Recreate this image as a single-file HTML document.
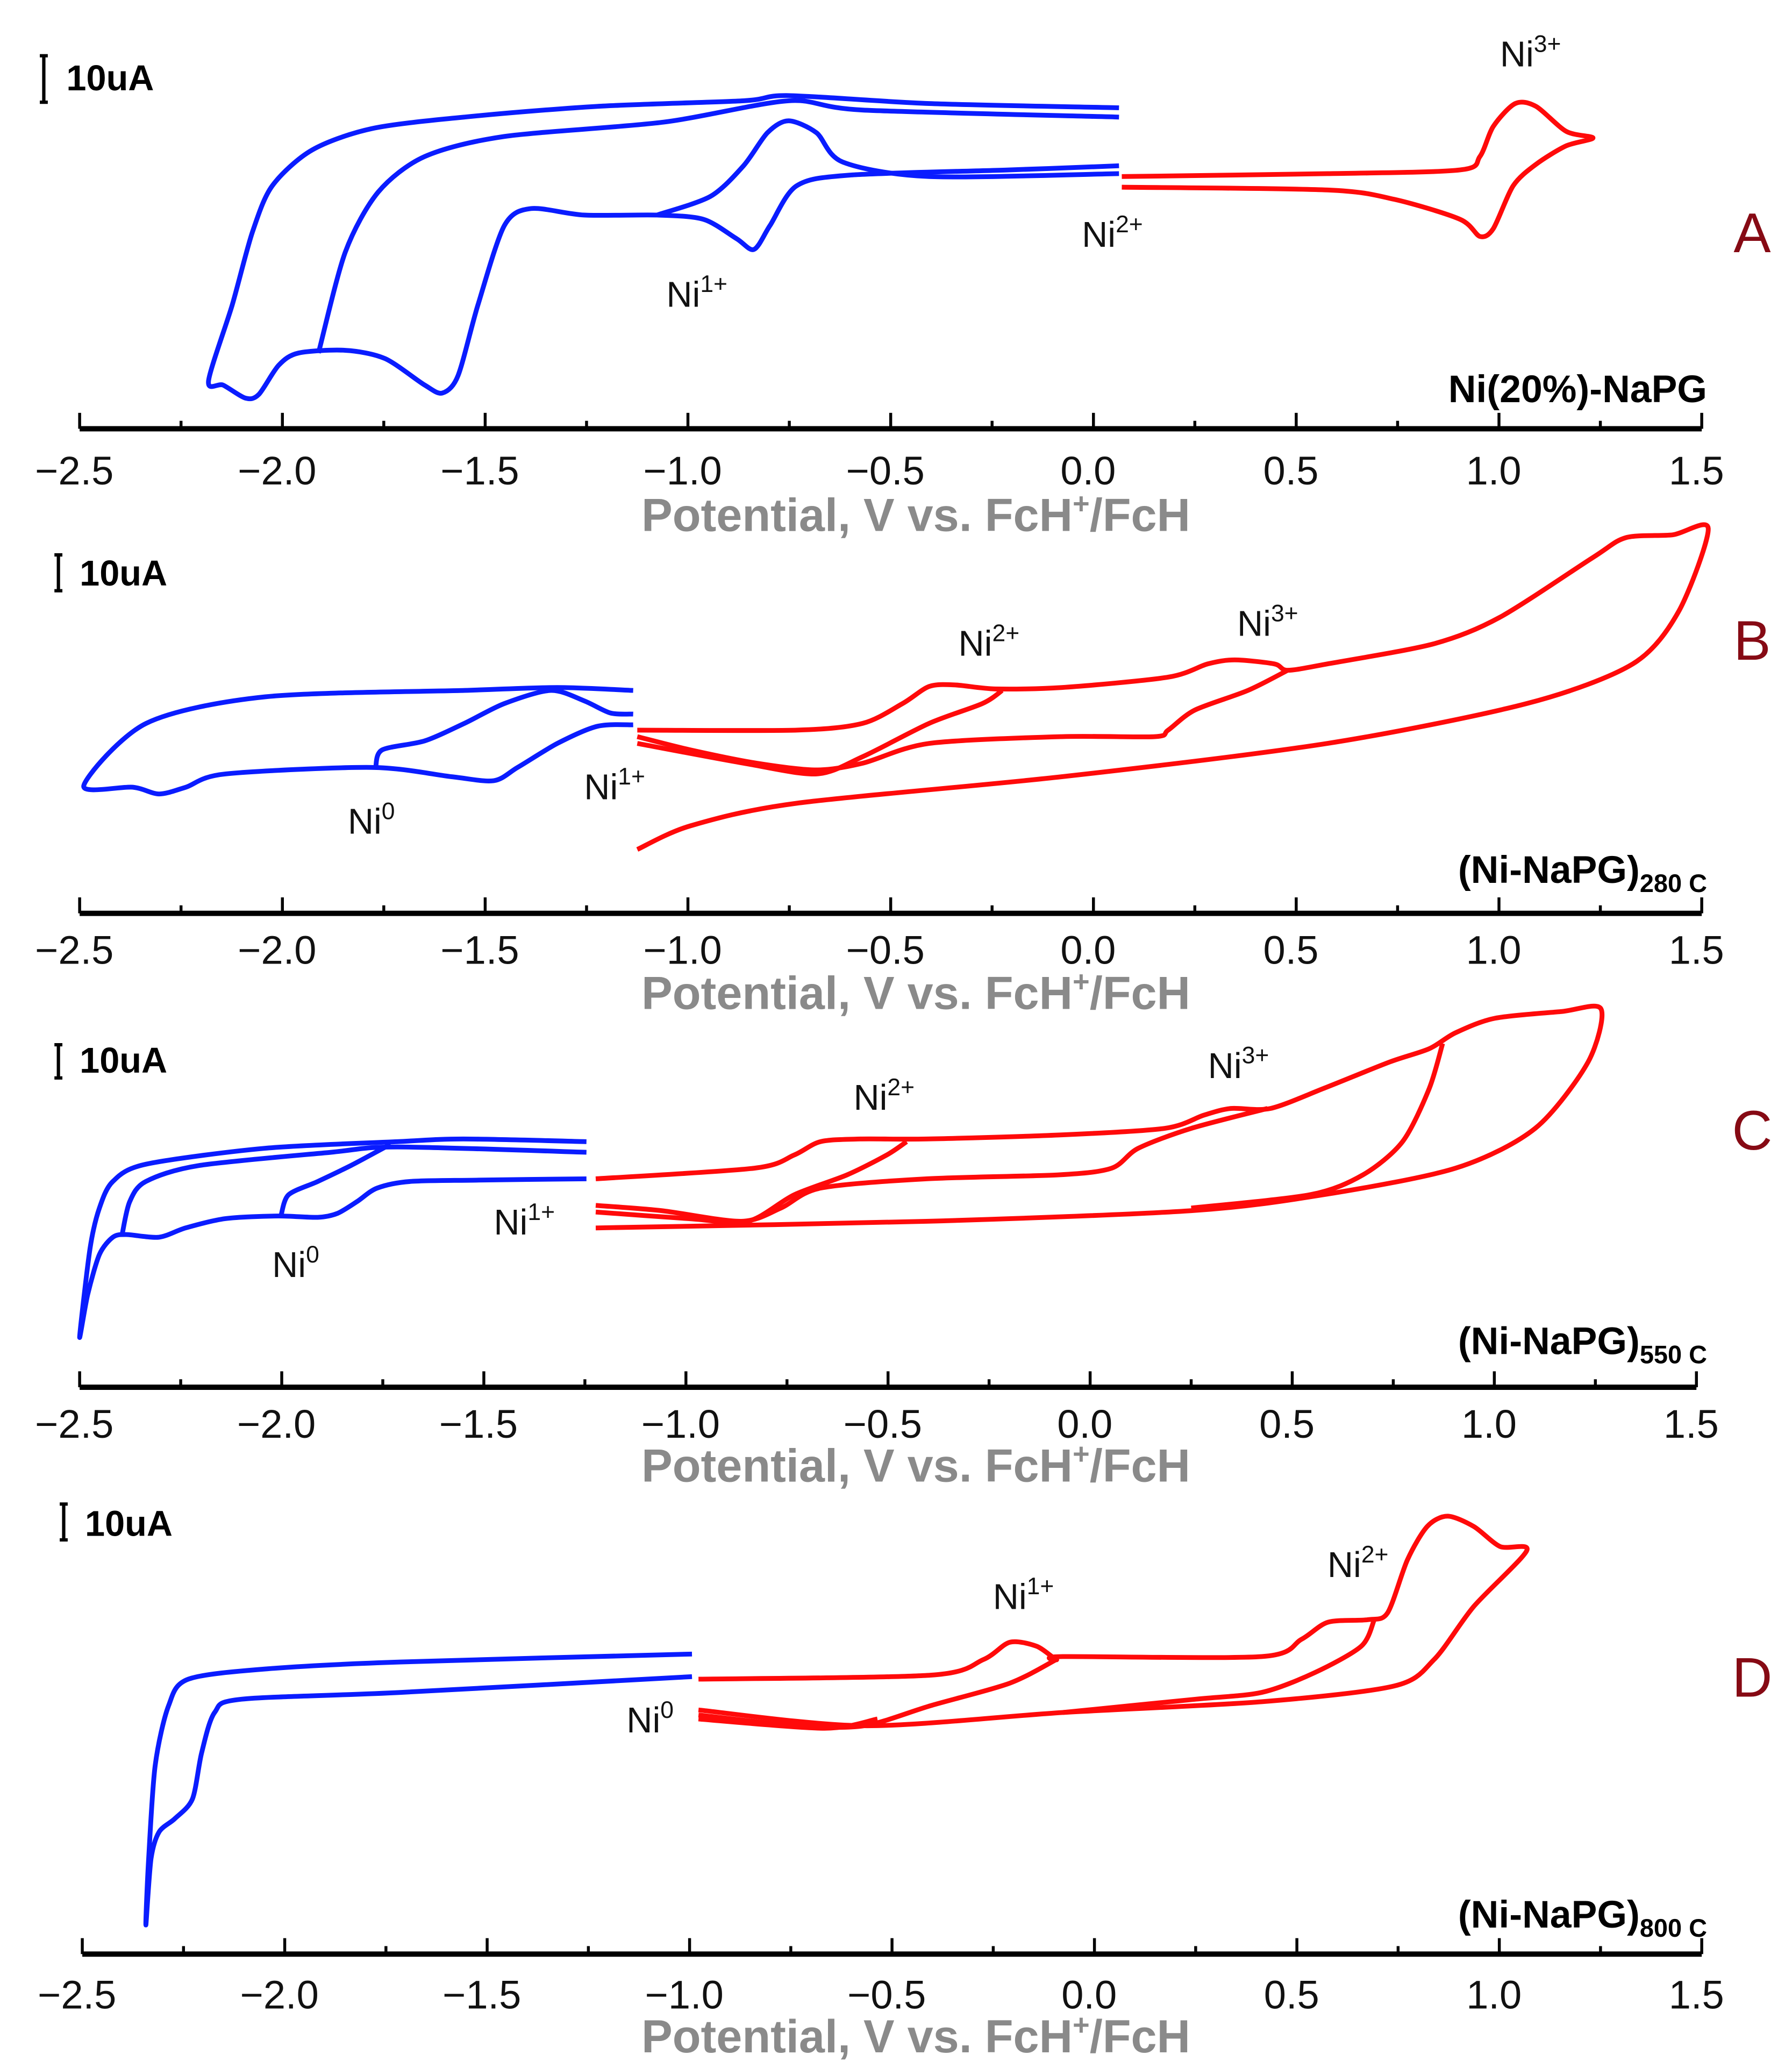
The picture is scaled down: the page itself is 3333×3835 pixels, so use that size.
<!DOCTYPE html>
<html><head><meta charset="utf-8"><style>
html,body{margin:0;padding:0;background:#fff}
svg{display:block}
text{font-family:"Liberation Sans",sans-serif}
</style></head><body>
<svg id="chart" width="3333" height="3835" viewBox="0 0 1350 1553.3" preserveAspectRatio="none" xmlns="http://www.w3.org/2000/svg"></svg>
<script>
// ---- data: [potential V, current uA] ----
const aBlue1=[[0.063,69.1],[-0.405,70],[-0.752,71.7],[-0.863,70.6],[-1.223,69.4],[-1.551,67.1],[-1.78,64.6],[-1.927,60],[-2.025,52.3],[-2.074,42.3],[-2.124,26.6],[-2.182,10.3],[-2.146,9.4],[-2.091,6.6],[-2.058,7.4],[-2.009,13.7],[-1.96,16.3],[-1.845,16.9],[-1.747,15.1],[-1.649,9.4],[-1.606,7.7],[-1.567,11.4],[-1.518,26.6],[-1.453,43.7],[-1.387,47.4],[-1.256,46],[-1.076,46],[-0.962,45.1],[-0.88,40.9],[-0.837,38.6],[-0.798,43.7],[-0.732,52.3],[-0.601,54.6],[-0.209,55.7],[0.063,56.6]];
const aBlue2=[[0.063,54.9],[-0.405,54.3],[-0.618,57.4],[-0.683,63.7],[-0.752,66.3],[-0.804,63.7],[-0.863,56.6],[-0.945,50],[-1.076,46]];
const aBlue3=[[-1.911,16.3],[-1.845,38],[-1.764,50.9],[-1.649,58.6],[-1.453,62.9],[-1.06,66],[-0.752,70.6],[-0.569,68.6],[0.063,67.1]];
const aRed1=[[0.07,54.3],[0.577,54.9],[0.904,55.7],[0.953,58.6],[0.986,65.1],[1.04,70],[1.091,69.4],[1.166,64],[1.232,62.6],[1.166,60.9],[1.091,56.9],[1.035,52.3],[0.986,43.1],[0.953,41.4],[0.904,45.1],[0.741,49.4],[0.577,51.4],[0.07,52]];

const bBlue1=[[-1.135,62.2],[-1.322,63],[-1.551,62.2],[-2.042,60.4],[-2.336,53],[-2.49,35.6],[-2.369,35.2],[-2.304,33.3],[-2.238,35.2],[-2.14,38.9],[-1.78,40.7],[-1.583,38.1],[-1.479,37],[-1.42,40.7],[-1.322,47.4],[-1.223,52.2],[-1.135,52.6]];
const bBlue2=[[-1.77,40.7],[-1.754,45.6],[-1.649,48.1],[-1.551,53],[-1.453,58.5],[-1.338,62.2],[-1.256,59.3],[-1.191,55.9],[-1.135,55.6]];
const bRed1=[[-1.125,17.8],[-0.994,24.4],[-0.732,30.7],[-0.078,38.1],[0.577,47.4],[1.068,58.5],[1.33,69.6],[1.444,84.4],[1.516,107.4],[1.428,105.6],[1.313,104.8],[1.232,99.3],[1.002,82.6],[0.839,75.2],[0.577,69.6],[0.479,67.8],[0.446,69.6],[0.348,70.7],[0.282,69.6],[0.184,65.9],[-0.078,63],[-0.241,62.6],[-0.34,63.7],[-0.405,63.3],[-0.471,58.5],[-0.569,53],[-0.732,51.1],[-1.125,51.1]];
const bRed2=[[-1.125,49.3],[-0.994,45.6],[-0.831,41.9],[-0.683,40],[-0.569,41.9],[-0.405,47.4],[-0.078,49.3],[0.151,49.3],[0.184,51.1],[0.25,56.7],[0.381,62.2],[0.479,67.8]];
const bRed3=[[-1.125,47.4],[-0.863,41.9],[-0.683,38.9],[-0.569,43.7],[-0.405,53],[-0.274,58.5],[-0.225,62.2]];

const cBlue1=[[-1.246,74],[-1.551,74.8],[-1.714,74],[-2.042,72],[-2.336,67.2],[-2.418,62],[-2.451,54],[-2.474,42],[-2.5,15.2],[-2.48,28],[-2.451,40],[-2.418,45.2],[-2.385,46],[-2.304,45.2],[-2.238,48],[-2.14,50.8],[-2.009,51.6],[-1.911,51.2],[-1.862,52.4],[-1.813,56],[-1.764,60],[-1.682,62],[-1.518,62.4],[-1.246,62.8]];
const cBlue2=[[-2.395,46],[-2.376,56],[-2.336,62],[-2.205,66.8],[-1.878,70.8],[-1.714,72.4],[-1.246,70.8]];
const cBlue3=[[-2.002,51.6],[-1.983,58],[-1.911,62],[-1.829,66.8],[-1.731,73.2]];
const cRed1=[[-1.223,48],[-0.405,50],[0.25,53.2],[0.577,58],[0.904,66],[1.101,78],[1.232,98],[1.264,114],[1.166,113.2],[1.002,111.2],[0.904,106.8],[0.839,102],[0.741,98],[0.577,90],[0.446,84],[0.348,84],[0.282,82],[0.184,78],[-0.078,76],[-0.405,74.8],[-0.569,74.8],[-0.667,74],[-0.732,70],[-0.831,66],[-1.223,62.8]];
const cRed2=[[0.872,103.6],[0.839,90],[0.773,74],[0.675,64],[0.544,58],[0.25,54]];
const cRed3=[[-1.223,54.8],[-1.06,53.2],[-0.863,50],[-0.765,54],[-0.667,60],[-0.405,62.8],[-0.078,64],[0.053,66],[0.119,72],[0.25,78],[0.439,84]];
const cRed4=[[-1.223,52.8],[-0.994,50.8],[-0.847,50],[-0.732,58],[-0.601,64],[-0.503,70],[-0.454,74]];

const dBlue1=[[-0.994,83.7],[-1.714,81.5],[-2.042,79.6],[-2.238,76.7],[-2.287,69.3],[-2.32,52.6],[-2.336,26.7],[-2.343,8.1],[-2.33,26.7],[-2.31,34.1],[-2.271,37.8],[-2.228,43.3],[-2.205,56.3],[-2.173,67.4],[-2.107,71.1],[-1.714,73],[-0.994,77.4]];
const dRed1=[[-0.978,68.1],[-0.569,63.7],[-0.078,67.4],[0.413,70.4],[0.741,74.8],[0.839,82.2],[0.937,97],[1.068,112.6],[1.002,113.7],[0.937,119.3],[0.872,122.2],[0.822,119.3],[0.773,110],[0.724,95.2],[0.675,93.3],[0.577,92.6],[0.511,87.8],[0.413,83],[-0.078,83],[-0.094,82.2],[-0.143,85.9],[-0.209,87],[-0.274,82.2],[-0.405,77.8],[-0.978,76.7]];
const dRed2=[[-0.978,66.7],[-0.732,63.7],[-0.569,63.7],[-0.405,69.3],[-0.209,75.6],[-0.094,82.2]];
const dRed3=[[-0.978,65.6],[-0.667,63],[-0.536,65.6]];
const dRed4=[[0.691,93.3],[0.659,85.9],[0.544,78.5],[0.413,73],[0.25,71.1],[-0.078,67.4]];

const tickValues=[-2.5,-2.0,-1.5,-1.0,-0.5,0.0,0.5,1.0,1.5];
const tickLabels=["\u22122.5","\u22122.0","\u22121.5","\u22121.0","\u22120.5","0.0","0.5","1.0","1.5"];

const panels=[
 {id:'a',letter:'A',x0:60,x1:1282,ay:323,k:3.5,bar:[33,42,77],ua:[50,68],series:[[aBlue1,'#0a1cff'],[aBlue2,'#0a1cff'],[aBlue3,'#0a1cff'],[aRed1,'#ff0a0a']],
  labels:[['Ni','3+',1130,50],['Ni','2+',815,186],['Ni','1+',502,231]],name:['Ni(20%)-NaPG',''],nameY:303,letterY:190,tl:365,tt:400},
 {id:'b',letter:'B',x0:60,x1:1282,ay:688,k:2.7,bar:[44,418,445],ua:[60,441],series:[[bBlue1,'#0a1cff'],[bBlue2,'#0a1cff'],[bRed1,'#ff0a0a'],[bRed2,'#ff0a0a'],[bRed3,'#ff0a0a']],
  labels:[['Ni','0',262,628],['Ni','1+',440,602],['Ni','2+',722,494],['Ni','3+',932,479]],name:['(Ni-NaPG)','280 C'],nameY:665,letterY:497,tl:726,tt:760},
 {id:'c',letter:'C',x0:60,x1:1278,ay:1045,k:2.5,bar:[44,787,812],ua:[60,808],series:[[cBlue1,'#0a1cff'],[cBlue2,'#0a1cff'],[cBlue3,'#0a1cff'],[cRed1,'#ff0a0a'],[cRed2,'#ff0a0a'],[cRed3,'#ff0a0a'],[cRed4,'#ff0a0a']],
  labels:[['Ni','0',205,962],['Ni','1+',372,930],['Ni','2+',643,836],['Ni','3+',910,812]],name:['(Ni-NaPG)','550 C'],nameY:1020,letterY:866,tl:1083,tt:1116},
 {id:'d',letter:'D',x0:62,x1:1282,ay:1472,k:2.7,bar:[48,1133,1160],ua:[64,1157],series:[[dBlue1,'#0a1cff'],[dRed1,'#ff0a0a'],[dRed2,'#ff0a0a'],[dRed3,'#ff0a0a'],[dRed4,'#ff0a0a']],
  labels:[['Ni','0',472,1305],['Ni','1+',748,1212],['Ni','2+',1000,1188]],name:['(Ni-NaPG)','800 C'],nameY:1452,letterY:1278,tl:1513,tt:1546}
];

const NS='http://www.w3.org/2000/svg';
const svg=document.getElementById('chart');
function mk(tag,attrs,parent){const e=document.createElementNS(NS,tag);for(const k in attrs)e.setAttribute(k,attrs[k]);(parent||svg).appendChild(e);return e;}
function smooth(pts){
  let d='M'+pts[0][0].toFixed(1)+','+pts[0][1].toFixed(1);
  for(let i=0;i<pts.length-1;i++){
    const p0=pts[Math.max(0,i-1)],p1=pts[i],p2=pts[i+1],p3=pts[Math.min(pts.length-1,i+2)];
    const t=0.14;
    const c1=[p1[0]+(p2[0]-p0[0])*t,p1[1]+(p2[1]-p0[1])*t];
    const c2=[p2[0]-(p3[0]-p1[0])*t,p2[1]-(p3[1]-p1[1])*t];
    d+=' C'+c1[0].toFixed(1)+','+c1[1].toFixed(1)+' '+c2[0].toFixed(1)+','+c2[1].toFixed(1)+' '+p2[0].toFixed(1)+','+p2[1].toFixed(1);
  }
  return d;
}
panels.forEach(p=>{
  const g=mk('g',{});
  
  
  const xs=v=>p.x0+(v+2.5)*(p.x1-p.x0)/4;
  const ys=i=>p.ay-i*p.k;
  const ax=mk('line',{x1:p.x0,x2:p.x1,y1:p.ay,y2:p.ay,stroke:'#000','stroke-width':4},g);
  
  
  for(let v=-2.5;v<=1.501;v+=0.25){
    const major=Math.abs(Math.round(v*2)-v*2)<1e-6;
    const t=mk('line',{x1:xs(v),x2:xs(v),y1:p.ay,y2:p.ay-(major?12:6),stroke:'#000','stroke-width':2.2},g);
    
    
  }
  tickValues.forEach((v,i)=>{
    const t=mk('text',{x:xs(v)-4,y:p.tl,'text-anchor':'middle','font-size':30,fill:'#111'},g);
    
    
    t.textContent=tickLabels[i];
  });
  const tt=mk('text',{x:690,y:p.tt,'text-anchor':'middle','font-size':35,'font-weight':'bold',fill:'#8a8a8a'},g);
  
  
  tt.innerHTML='Potential, V vs. FcH<tspan font-size="22" dy="-13">+</tspan><tspan dy="13">/FcH</tspan>';
  const sb=mk('path',{d:`M${p.bar[0]},${p.bar[1]}V${p.bar[2]}M${p.bar[0]-3},${p.bar[1]}h6M${p.bar[0]-3},${p.bar[2]}h6`,stroke:'#000','stroke-width':2.5,fill:'none'},g);
  
  
  const ut=mk('text',{x:p.ua[0],y:p.ua[1],'font-size':27,'font-weight':'bold',fill:'#000'},g);
  
  
  ut.textContent='10uA';
  p.series.forEach((s,si)=>{
    const pts=s[0].map(q=>[xs(q[0]),ys(q[1])]);
    const path=mk('path',{d:smooth(pts),stroke:s[1],'stroke-width':3.6,fill:'none','stroke-linejoin':'round','stroke-linecap':'butt'},g);
    
    
  });
  p.labels.forEach(l=>{
    const t=mk('text',{x:l[2],y:l[3],'font-size':27,fill:'#111'},g);
    
    
    t.innerHTML=l[0]+'<tspan font-size="18" dy="-11">'+l[1]+'</tspan>';
  });
  const nm=mk('text',{x:1286,y:p.nameY,'text-anchor':'end','font-size':29,'font-weight':'bold',fill:'#000'},g);
  
  
  nm.innerHTML=p.name[0]+(p.name[1]?'<tspan font-size="19" dy="7">'+p.name[1]+'</tspan>':'');
  const lt=mk('text',{x:1320,y:p.letterY,'text-anchor':'middle','font-size':42,fill:'#860a14'},g);
  
  
  lt.textContent=p.letter;
});
</script>
</body></html>
